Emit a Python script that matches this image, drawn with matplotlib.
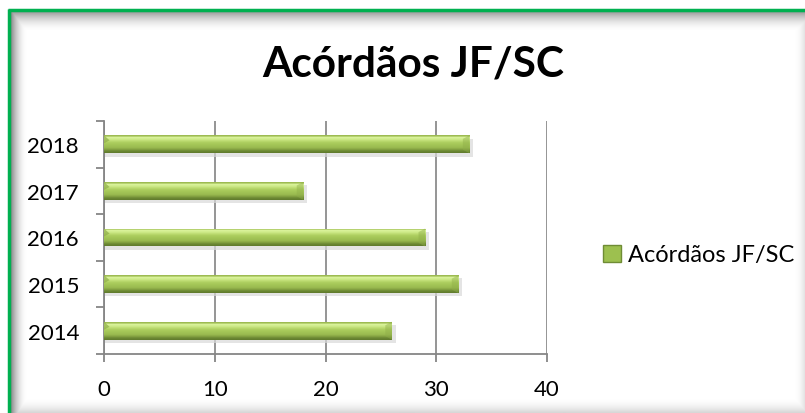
import numpy as np
import matplotlib
matplotlib.use("Agg")
import matplotlib.pyplot as plt
from matplotlib.patches import Rectangle, Patch, Polygon
from matplotlib.colors import to_rgb

years = ["2014", "2015", "2016", "2017", "2018"]
values = [26, 32, 29, 18, 33]
series_name = "Acórdãos JF/SC"
title = "Acórdãos JF/SC"
xticks = [0, 10, 20, 30, 40]

plt.rcParams['font.family'] = ['Lato', 'DejaVu Sans']

W, H = 805, 414
fig = plt.figure(figsize=(W / 100, H / 100), dpi=100)
fig.patch.set_facecolor("white")

# background with inner shadow
bg = fig.add_axes([0, 0, 1, 1], zorder=-5)
bg.set_xlim(0, W)
bg.set_ylim(H, 0)
bg.axis("off")
X, Y = np.meshgrid(np.arange(W), np.arange(H))
shade = np.zeros((H, W))
shade = np.maximum(shade, np.clip(1 - (X - 9) / 18, 0, 1) ** 2 * 0.55)
shade = np.maximum(shade, np.clip(1 - (Y - 11) / 22, 0, 1) ** 2 * 0.45)
shade = np.maximum(shade, np.clip(1 - (H - Y) / 16, 0, 1) ** 2 * 0.18)
shade = np.maximum(shade, np.clip(1 - (W - X) / 12, 0, 1) ** 2 * 0.15)
shade[Y < 11] = 0
shade[X < 9] = 0
bg.imshow(1 - shade, cmap="gray", vmin=0, vmax=1, extent=(0, W, H, 0), aspect="auto", interpolation="bilinear")
bg.plot([8.5, 8.5], [10, H], color="#00B050", lw=2.5, solid_capstyle="butt")
bg.plot([8, W], [10.5, 10.5], color="#00B050", lw=2.5, solid_capstyle="butt")

ax = fig.add_axes([104 / W, 1 - 355 / H, (547 - 104) / W, (355 - 122) / H])
ax.set_facecolor("none")
pos = np.arange(len(years))
bh = 0.386
bars = ax.barh(pos, values, height=bh, color="#a9cb5d", zorder=3)

grad_hex = ["#9dbb52", "#d9f29a", "#cfeb8a", "#bedd73", "#aecf61", "#a6c859",
            "#a0c255", "#9bbc51", "#8aa946", "#728f37", "#627d2e"]
grad = np.array([to_rgb(c) for c in grad_hex])[:, None, :]
for b in bars:
    x0, y0 = b.get_x(), b.get_y()
    w, h = b.get_width(), b.get_height()
    ax.add_patch(Rectangle((x0 + 0.1, y0 - 0.07), w + 0.25, h, color="#d9d9d9", alpha=0.7, zorder=2, lw=0))
    im = ax.imshow(grad, extent=(x0, x0 + w, y0, y0 + h), aspect="auto", zorder=4, interpolation="bilinear")
    im.set_clip_path(b)
    # right bevel
    ax.add_patch(Polygon([(x0 + w, y0 + h), (x0 + w - 0.6, y0 + h * 0.8), (x0 + w - 0.6, y0 + h * 0.2), (x0 + w, y0)],
                         closed=True, facecolor="#8fae49", edgecolor="none", alpha=0.45, zorder=5))
    # left bevel
    ax.add_patch(Polygon([(x0, y0 + h), (x0 + 0.5, y0 + h * 0.72), (x0, y0 + h * 0.55)],
                         closed=True, facecolor="#8fae49", edgecolor="none", alpha=0.7, zorder=5))

ax.set_xlim(0, 40)
ax.set_ylim(-0.5, 4.5)
ax.set_xticks(xticks)
ax.set_xticklabels([str(t) for t in xticks], fontsize=16)
ax.set_yticks(pos)
ax.set_yticklabels(years, fontsize=16)
ax.set_yticks(np.arange(-0.5, 5.0, 1.0), minor=True)
ax.tick_params(axis="y", which="major", length=0, pad=18)
ax.tick_params(axis="y", which="minor", length=6, color="#868686", width=1.3)
ax.tick_params(axis="x", which="major", length=6, color="#868686", width=1.3, pad=12)
ax.grid(axis="x", color="#8c8c8c", lw=1.3, zorder=1)
for s in ["top", "right"]:
    ax.spines[s].set_visible(False)
for s in ["left", "bottom"]:
    ax.spines[s].set_color("#868686")
    ax.spines[s].set_linewidth(1.3)

fig.text(413 / W, 1 - 77 / H, title, ha="center", va="baseline", fontsize=30.5, fontweight="bold")

handle = Patch(facecolor="#9dc04f", edgecolor="#6f8c35")
fig.legend([handle], [series_name], loc="center left", bbox_to_anchor=(603 / W, 1 - 256 / H),
           frameon=False, fontsize=17, handlelength=0.75, handleheight=0.75, handletextpad=0.3,
           borderaxespad=0, borderpad=0)

fig.savefig("out.png", dpi=100)
